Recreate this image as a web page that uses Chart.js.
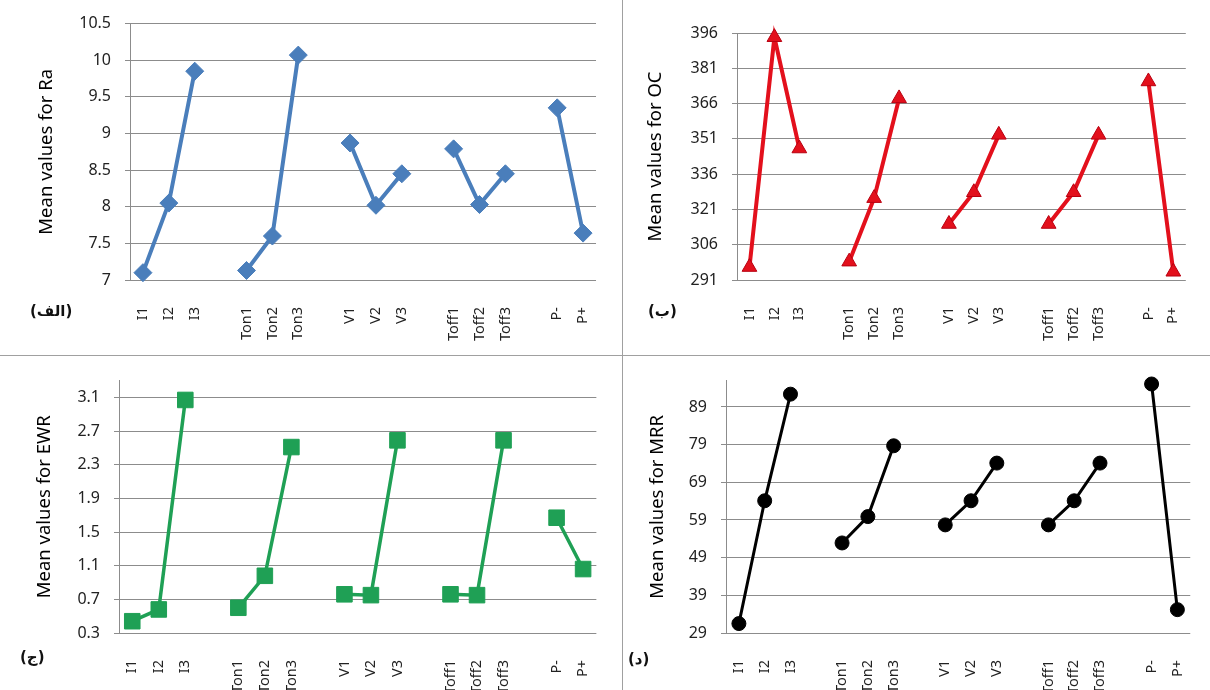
<!DOCTYPE html>
<html>
<head>
<meta charset="utf-8">
<script src="https://cdn.jsdelivr.net/npm/chart.js@4"></script>
<style>
    html, body { margin: 0; padding: 0; background: #fff; overflow: hidden; }
    body { width: 1210px; height: 690px; position: relative; }
    .panel { position: absolute; }
    .vline { position: absolute; left: 622px; top: 0; width: 1px; height: 690px; background: #a0a0a0; }
    .hline { position: absolute; left: 0; top: 355px; width: 1210px; height: 1px; background: #a0a0a0; }
    .tag { position: absolute; font-family: "DejaVu Sans", sans-serif; font-weight: bold; font-size: 15px; color: #111; direction: rtl; }
</style>
</head>
<body>

<div class="panel" style="left:0;top:0;width:620px;height:354px"><canvas id="raChart"></canvas></div>
<div class="panel" style="left:624px;top:0;width:586px;height:354px"><canvas id="ocChart"></canvas></div>
<div class="panel" style="left:0;top:357px;width:620px;height:333px"><canvas id="ewrChart"></canvas></div>
<div class="panel" style="left:624px;top:357px;width:590px;height:333px"><canvas id="mrrChart"></canvas></div>

<div class="vline"></div>
<div class="hline"></div>

<div class="tag" style="left:30px;top:302px">(الف)</div>
<div class="tag" style="left:648px;top:302px">(ب)</div>
<div class="tag" style="left:20px;top:648px">(ج)</div>
<div class="tag" style="left:628px;top:650px">(د)</div>

<script>
// ===============================
// Data (blank slots split the factor groups)
// ===============================
const factorLabels = ["I1", "I2", "I3", "", "Ton1", "Ton2", "Ton3", "", "V1", "V2", "V3", "",
    "Toff1", "Toff2", "Toff3", "", "P-", "P+"];

const raValues  = [7.10, 8.05, 9.85, null, 7.13, 7.60, 10.07, null, 8.87, 8.02, 8.45, null,
    8.79, 8.03, 8.45, null, 9.35, 7.64];
const ocValues  = [296.5, 394.2, 346.9, null, 298.8, 325.8, 368.2, null, 314.8, 328.3, 352.7, null,
    314.8, 328.3, 352.7, null, 375.4, 294.5];
const ewrValues = [0.44, 0.58, 3.07, null, 0.60, 0.98, 2.51, null, 0.76, 0.75, 2.59, null,
    0.76, 0.75, 2.59, null, 1.67, 1.06];
const mrrValues = [31.5, 64.1, 92.4, null, 52.9, 59.9, 78.7, null, 57.7, 64.1, 74.1, null,
    57.7, 64.1, 74.1, null, 95.1, 35.2];

const raTicks  = [7, 7.5, 8, 8.5, 9, 9.5, 10, 10.5];
const ocTicks  = [291, 306, 321, 336, 351, 366, 381, 396];
const ewrTicks = [0.3, 0.7, 1.1, 1.5, 1.9, 2.3, 2.7, 3.1];
const mrrTicks = [29, 39, 49, 59, 69, 79, 89];

// ===============================
// Chart builder
// ===============================
function buildChart(id, cfg) {

    const canvas = document.getElementById(id);

    return new Chart(canvas, {

        type: "line",

        data: {
            labels: factorLabels,
            datasets: [{
                data: cfg.values,
                borderColor: cfg.color,
                backgroundColor: cfg.fill || cfg.color,
                borderWidth: cfg.lineWidth,
                pointStyle: cfg.marker,
                pointRadius: cfg.radius,
                pointBorderColor: cfg.edge || cfg.color,
                pointBorderWidth: 1,
                spanGaps: false,
                tension: 0,
                clip: false
            }]
        },

        options: {
            responsive: true,
            maintainAspectRatio: false,
            animation: false,
            layout: {
                padding: { top: cfg.area.top, right: cfg.area.right, left: 0, bottom: 0 }
            },
            plugins: {
                legend: { display: false },
                tooltip: { enabled: false }
            },
            scales: {
                x: {
                    offset: true,
                    grid: { display: false },
                    border: { display: false },
                    ticks: {
                        autoSkip: false,
                        minRotation: 90,
                        maxRotation: 90,
                        padding: 19,
                        color: "#222",
                        font: { family: "Noto Sans", size: 14.5 }
                    },
                    afterFit: function (scale) { scale.height = cfg.area.xh; }
                },
                y: {
                    min: cfg.ticks[0],
                    max: cfg.max,
                    afterBuildTicks: function (scale) {
                        scale.ticks = cfg.ticks.map(v => ({ value: v }));
                    },
                    afterFit: function (scale) { scale.width = cfg.area.left; },
                    grid: { color: "#8c8c8c", lineWidth: 1, tickLength: 5 },
                    border: { color: "#8c8c8c", width: 1 },
                    ticks: {
                        padding: 14,
                        color: "#222",
                        font: { family: "Noto Sans", size: 16 },
                        callback: v => String(v)
                    },
                    title: {
                        display: true,
                        text: cfg.title,
                        color: "#000",
                        font: { family: "Noto Sans", size: 18.5 },
                        padding: { top: cfg.titlePad, bottom: 0 }
                    }
                }
            }
        }
    });
}

document.addEventListener("DOMContentLoaded", function () {

    buildChart("raChart", {
        values: raValues, ticks: raTicks, max: 10.5,
        title: "Mean values for Ra", titlePad: 36,
        color: "#4a7ebb", marker: "rectRot", radius: 9, lineWidth: 4,
        area: { left: 130, right: 19, top: 22, xh: 74 }
    });

    buildChart("ocChart", {
        values: ocValues, ticks: ocTicks, max: 396,
        title: "Mean values for OC", titlePad: 21,
        color: "#e3101c", edge: "#b80010", marker: "triangle", radius: 8.5, lineWidth: 4,
        area: { left: 113, right: 0, top: 33, xh: 74 }
    });

    buildChart("ewrChart", {
        values: ewrValues, ticks: ewrTicks, max: 3.3,
        title: "Mean values for EWR", titlePad: 34,
        color: "#1fa055", marker: "rect", radius: 11, lineWidth: 3.5,
        area: { left: 119, right: 18, top: 20, xh: 57 }
    });

    buildChart("mrrChart", {
        values: mrrValues, ticks: mrrTicks, max: 96,
        title: "Mean values for MRR", titlePad: 23,
        color: "#000000", marker: "circle", radius: 7, lineWidth: 3,
        area: { left: 102, right: 0, top: 20, xh: 57 }
    });

});
</script>
</body>
</html>
